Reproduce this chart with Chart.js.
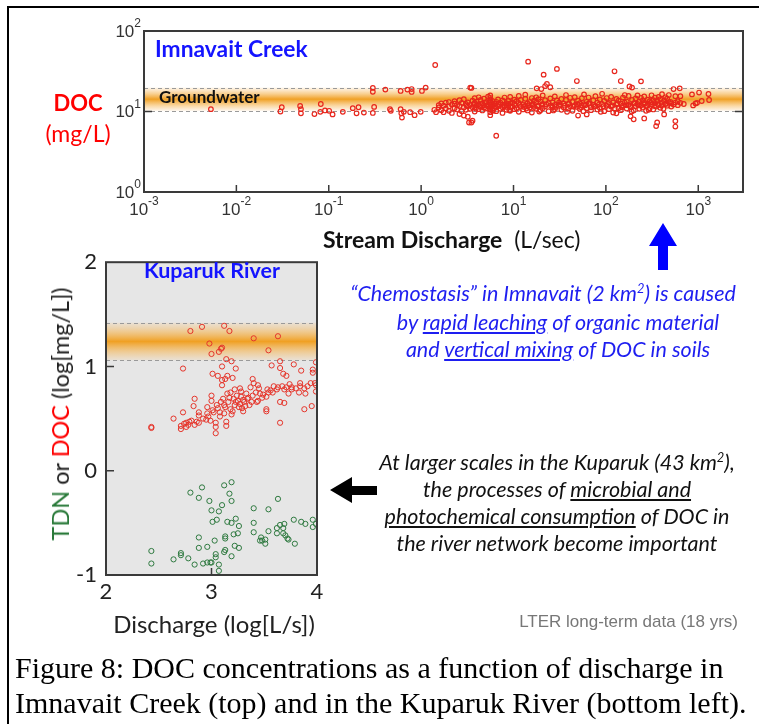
<!DOCTYPE html>
<html>
<head>
<meta charset="utf-8">
<script src="https://cdn.jsdelivr.net/npm/chart.js@4.4.0/dist/chart.umd.min.js"></script>
<style>
  body { margin: 0; width: 759px; height: 724px; position: relative; background: #fff; overflow: hidden; font-family: Lato, "Open Sans", sans-serif; }
  canvas { position: absolute; }
  .t { position: absolute; white-space: nowrap; }
  .c { text-align: center; width: 500px; }
  .frame { position: absolute; left: 7px; top: 6px; width: 800px; height: 800px; border-top: 2.5px solid #000; border-left: 2.5px solid #000; }
  .blue { color: #1e1ef0; font-style: italic; font-size: 21.5px; line-height: 28px; }
  .blk { color: #111; font-style: italic; font-size: 21.5px; line-height: 28px; }
  .cap { font-family: "Liberation Serif", "Times New Roman", serif; font-size: 30px; line-height: 36px; color: #000; left: 15px; }
  sup { font-size: 0.6em; line-height: 0; }
  u { text-underline-offset: 2px; }
</style>
</head>
<body>
<div class="frame"></div>
<canvas id="imnavait" width="759" height="260" style="left:0;top:0"></canvas>
<canvas id="kuparuk" width="330" height="400" style="left:0;top:240px"></canvas>

<!-- top chart labels -->
<div class="t" style="left:155px;top:35px;color:#1414ff;font-weight:bold;font-size:22.8px;line-height:26px">Imnavait Creek</div>
<div class="t" style="left:159px;top:87px;color:#111;font-weight:bold;font-size:17px;line-height:20px">Groundwater</div>
<div class="t c" style="left:-172px;top:89px;color:#f00;font-weight:bold;font-size:22px;line-height:28px">DOC</div>
<div class="t c" style="left:-172px;top:119px;color:#f00;font-size:23px;line-height:28px">(mg/L)</div>
<div class="t" style="left:323px;top:226px;color:#111;font-size:23px;line-height:26px"><b>Stream Discharge</b>&nbsp;&nbsp;(L/sec)</div>

<!-- bottom chart labels -->
<div class="t c" style="left:-38px;top:257px;color:#1414ff;font-weight:bold;font-size:21.5px;line-height:26px">Kuparuk River</div>
<div class="t" style="left:60px;top:414px;font-size:23.5px;line-height:26px;color:#222;transform:translate(-50%,-50%) rotate(-90deg)"><span style="color:#2a7a3a">TDN</span> or <span style="color:#f00">DOC</span> (log[mg/L])</div>
<div class="t c" style="left:-36px;top:610px;color:#222;font-size:24px;line-height:28px">Discharge (log[L/s])</div>

<!-- annotations -->
<svg width="759" height="724" style="position:absolute;left:0;top:0">
  <polygon points="663,223 677,246 668,246 668,270 658,270 658,246 649,246" fill="#0000ff"/>
  <polygon points="330,490 352,477 352,486 377,486 377,495 352,495 352,503" fill="#000"/>
</svg>
<div class="t c blue" style="left:293px;top:279px">“Chemostasis” in Imnavait (2 km<sup>2</sup>) is caused</div>
<div class="t c blue" style="left:308px;top:308px">by <u>rapid leaching</u> of organic material</div>
<div class="t c blue" style="left:308px;top:335px">and <u>vertical mixing</u> of DOC in soils</div>

<div class="t c blk" style="left:307px;top:448px">At larger scales in the Kuparuk (43 km<sup>2</sup>),</div>
<div class="t c blk" style="left:307px;top:475px">the processes of <u>microbial and</u></div>
<div class="t c blk" style="left:307px;top:502px"><u>photochemical consumption</u> of DOC in</div>
<div class="t c blk" style="left:307px;top:529px">the river network become important</div>

<div class="t" style="right:21px;top:612px;color:#777;font-family:'Liberation Sans',Arial,sans-serif;font-size:17px;line-height:20px">LTER long-term data (18 yrs)</div>

<div class="t cap" style="top:650px">Figure 8: DOC concentrations as a function of discharge in</div>
<div class="t cap" style="top:685px">Imnavait Creek (top) and in the Kuparuk River (bottom left).</div>

<script>
// Imnavait Creek: [discharge L/s, DOC mg/L]
const imnavaitPoints = [
  [0.0053,10.7],[0.031,11.3],[0.030,10.0],[0.049,11.7],[0.050,10.7],[0.050,9.5],[0.070,9.3],[0.082,12.4],
  [0.081,9.9],[0.091,10.3],[0.101,10.2],[0.11,9.2],[0.142,9.9],[0.182,11.0],[0.20,9.5],[0.21,11.3],[0.24,9.7],
  [0.30,19.6],[0.30,17.6],[0.31,11.4],[0.30,9.6],[0.41,18.7],[0.46,10.7],[0.47,10.2],[0.60,18.0],[0.60,10.7],
  [0.61,9.5],[0.62,8.4],[0.65,9.9],[0.71,18.7],[0.79,19.0],[0.79,17.5],[0.76,9.8],[0.85,9.0],[0.99,9.9],
  [1.02,18.0],[1.12,19.8],[1.42,37.8],[1.39,10.5],[1.45,9.8],
  [1.55,11.2],[1.55,12.0],[1.65,10.4],[1.65,12.6],[1.75,11.8],[1.75,9.8],[1.85,12.9],[1.85,10.9],
  [2.0,11.5],[2.0,13.1],[2.0,10.2],[2.15,12.2],[2.15,9.6],[2.3,13.4],[2.3,11.0],[2.3,12.5],[2.45,10.6],[2.45,12.0],
  [2.6,11.7],[2.6,13.8],[2.6,9.3],[2.75,12.8],[2.75,10.1],[2.9,11.2],[2.9,14.2],[2.9,8.9],[3.05,12.4],[3.05,10.5],
  [3.2,13.0],[3.2,11.6],[3.2,8.6],[3.3,7.3],[3.4,19.8],[3.5,7.3],[3.6,7.7],[3.5,19.6],[3.4,12.1],[3.4,10.8],
  [3.6,13.6],[3.6,11.3],[3.8,12.7],[3.8,10.0],[3.8,14.6],[4.0,11.9],[4.0,13.3],[4.2,10.7],[4.2,12.3],[4.2,15.0],
  [4.4,11.4],[4.4,13.9],[4.6,12.6],[4.6,10.3],[4.8,11.1],[4.8,14.4],[4.8,12.0],[5.0,13.1],[5.0,10.9],
  [5.3,12.2],[5.3,15.3],[5.3,11.5],[5.6,9.0],[5.6,9.8],[5.6,10.6],[5.6,11.4],[5.6,12.2],[5.6,13.0],[5.6,13.8],
  [5.6,14.8],[5.6,15.8],[5.9,11.8],[5.9,13.5],[5.9,10.4],[6.2,12.5],[6.2,11.0],[6.5,5.0],[6.5,13.2],[6.5,10.1],
  [6.8,11.6],[6.8,14.1],[6.8,12.4],[7.2,10.8],[7.2,12.9],[7.6,13.7],[7.6,11.3],[7.6,9.6],[8.0,12.0],[8.0,14.9],
  [8.4,10.5],[8.4,12.7],[8.4,11.4],[8.8,13.5],[8.8,11.9],[9.2,10.2],[9.2,12.6],[9.2,15.2],[9.7,11.6],[9.7,13.0],
  [10.2,12.3],[10.2,10.7],[10.2,14.0],[10.8,11.0],[10.8,13.4],[11.4,12.8],[11.4,9.9],[11.4,15.6],[12.0,11.5],
  [12.0,13.9],[12.7,10.6],[12.7,12.2],[13.4,14.4],[13.4,11.8],[13.4,16.2],[14.2,12.6],[14.2,10.3],[14.4,41.6],
  [15.0,13.1],[15.0,11.2],[15.8,12.0],[15.8,14.7],[15.8,9.7],[16.7,11.4],[16.7,13.6],[17.6,12.9],[17.6,10.8],
  [17.6,15.0],[17.8,19.4],[18.6,11.9],[18.6,14.2],[19.6,13.3],[19.6,10.4],[20,19.0],[20.7,12.4],[20.7,11.0],
  [20.7,15.8],[21.2,28.7],[22,20.7],[22,13.8],[22,11.6],[23,22.0],[24,12.7],[24,10.1],[25,20.0],[25,14.5],
  [26.5,11.3],[26.5,13.0],[28,12.1],[28,15.4],[28,10.7],[29.5,33.8],[29.5,13.7],[31,11.8],[31,12.9],
  [33,14.3],[33,10.5],[35,12.5],[35,11.2],[37,13.9],[37,16.0],[39,10.9],[39,12.3],[41,14.8],[41,11.6],
  [43.5,13.1],[43.5,10.2],[46,12.0],[46,15.1],[48.5,23.9],[48.5,11.4],[50,8.9],[50,13.6],[52,12.7],[52,10.8],
  [55,14.6],[55,11.9],[58,12.3],[58,16.3],[62,9.2],[62,13.2],[62,11.0],[65,12.6],[65,14.9],[69,11.3],[69,10.4],
  [73,13.8],[73,12.1],[77,15.5],[77,11.7],[81,10.6],[81,12.9],[86,14.1],[86,11.1],[91,12.4],[91,16.6],
  [96,10.1],[96,13.5],[102,11.8],[102,14.7],[108,12.8],[108,10.7],[114,15.2],[114,11.5],[120,13.0],[120,9.7],
  [124,31.6],[130,9.5],[130,12.2],[130,14.3],[137,11.0],[137,13.6],[145,23.9],[145,12.5],[145,10.4],
  [153,14.9],[153,11.9],[160,12.9],[160,16.0],[168,10.9],[168,13.3],[176,12.1],[176,15.6],[180,20.5],
  [185,11.4],[185,8.7],[192,19.8],[192,13.9],[200,8.0],[200,12.7],[200,10.3],[210,14.5],[210,11.7],
  [220,12.4],[220,15.8],[230,10.8],[230,13.2],[240,23.7],[240,12.0],[240,14.8],[250,11.2],[250,13.7],
  [260,8.2],[260,12.9],[260,15.4],[272,11.6],[272,10.2],[285,14.0],[285,12.5],[298,13.4],[298,11.0],
  [312,15.9],[312,12.2],[326,10.6],[326,13.8],[340,12.8],[340,14.9],[350,6.6],[350,11.5],[359,7.3],[359,13.5],
  [372,12.1],[372,15.2],[388,14.2],[388,11.1],[405,12.9],[405,16.4],[427,9.2],[427,13.7],[440,15.0],[440,12.4],
  [460,11.8],[460,14.4],[480,13.1],[480,16.0],[510,11.5],[510,12.6],[540,19.0],[540,12.2],[565,7.6],[565,6.5],
  [565,15.5],[565,12.9],[600,12.0],[600,13.4],[630,19.4],[640,15.5],[640,12.8],[697,12.4],[855,16.3],
  [880,11.9],[935,12.6],[970,12.8],[1020,17.2],[1090,13.5],[1290,16.5],[1310,13.9],
  [3.1,11.9],[3.7,12.4],[4.3,11.7],[4.9,12.8],[5.8,12.6],[6.4,11.7],[7.0,12.1],[7.9,11.5],[8.6,12.3],[9.4,11.2],
  [10.5,11.8],[11.7,12.1],[13.0,11.4],[14.6,12.0],[16.2,12.4],[18.1,11.6],[20.2,12.1],[22.6,12.3],[25.5,11.9],
  [28.8,11.4],[32,12.2],[36,11.8],[40,12.6],[44.7,11.5],[49,12.3],[54,11.3],[60,12.0],[67,12.7],[75,11.5],
  [84,12.2],[94,11.6],[105,12.4],[118,11.9],[133,12.6],[149,11.3],[165,12.0],[183,11.7],[205,12.6],[226,11.9],
  [255,12.4],[280,11.8],[305,12.9],[335,11.7],[365,12.3],[400,11.9],[450,12.5],[500,13.2],[3.9,10.9],
  [6.0,10.2],[9.0,10.4],[13.8,10.9],[19.0,10.0],[27,10.3],[38,9.9],[57,10.1],[88,9.9],[125,10.9],[190,10.0],
  [290,10.5],[420,10.8]
];

// Kuparuk River: [log discharge, log concentration]
const kuparukDOC = [
  [2.80,1.34],[2.91,1.38],[3.12,1.39],[3.17,1.34],[2.98,1.22],[3.00,1.12],[3.07,1.14],[3.09,1.17],[3.10,1.18],
  [3.40,1.27],[3.63,1.29],[3.54,1.155],[3.14,1.07],[3.19,1.05],[3.23,0.98],[3.10,1.00],[2.73,0.98],[3.01,0.93],
  [3.06,0.91],[3.15,0.91],[3.20,0.89],[3.10,0.87],[3.10,0.82],[3.13,0.88],[3.57,1.01],[3.65,1.05],[3.65,0.985],
  [3.78,1.02],[3.85,0.96],[3.99,1.04],[3.96,0.97],[3.96,0.94],[3.68,0.93],[3.71,0.91],[3.39,0.88],[3.40,0.84],
  [3.94,0.84],[3.99,0.82],[3.99,0.76],[3.89,0.74],[3.84,0.84],[3.76,0.80],[3.67,0.81],[3.63,0.80],[3.59,0.81],
  [3.54,0.75],[3.52,0.71],[3.49,0.73],[3.45,0.79],[3.43,0.66],[3.52,0.59],[3.52,0.57],[3.65,0.66],[3.69,0.65],
  [3.65,0.46],[3.88,0.59],[3.95,0.62],[3.73,0.74],[3.83,0.75],[2.84,0.69],[3.00,0.72],[3.00,0.67],[2.83,0.62],
  [2.73,0.56],[2.64,0.50],[2.43,0.42],[2.43,0.41],[2.71,0.43],[2.71,0.40],[2.76,0.46],[2.76,0.42],[2.79,0.47],
  [2.81,0.48],[2.84,0.44],[2.88,0.46],[2.88,0.53],[2.88,0.56],[2.95,0.49],[2.96,0.61],[2.96,0.55],[2.97,0.52],
  [3.02,0.56],[3.04,0.46],[3.04,0.42],[3.04,0.36],[3.05,0.63],[3.08,0.56],[3.08,0.52],[3.11,0.69],[3.12,0.63],
  [3.12,0.55],[3.14,0.47],[3.14,0.43],[3.16,0.66],[3.18,0.75],[3.18,0.59],[3.19,0.54],[3.21,0.69],[3.22,0.63],
  [3.24,0.72],[3.25,0.67],[3.27,0.79],[3.27,0.64],[3.28,0.71],[3.29,0.60],[3.30,0.57],[3.31,0.66],[3.33,0.74],
  [3.34,0.69],[3.36,0.63],[3.39,0.72],[3.44,0.67],[3.46,0.74],[3.53,0.78],[3.58,0.75],[3.69,0.78],[3.71,0.80],
  [3.76,0.78],[3.80,0.79],[3.84,0.81],[3.88,0.79],[3.98,0.84],[3.06,0.60],[3.09,0.66],[3.13,0.61],[3.17,0.70],
  [3.20,0.57],[3.23,0.66],[3.26,0.61],[3.30,0.68],[3.32,0.62],[3.35,0.70],[3.38,0.66],[3.42,0.75],[3.48,0.70],
  [3.56,0.77],[3.62,0.78],[2.92,0.50],[2.99,0.48],[3.01,0.58],[2.86,0.47],[2.78,0.44],[2.74,0.45],[3.15,0.74],
  [3.22,0.78],[3.28,0.76],[3.37,0.80],[3.44,0.82],[3.91,0.81],[3.74,0.83]
];
const kuparukTDN = [
  [2.80,-0.21],[2.91,-0.16],[2.88,-0.26],[3.12,-0.14],[3.19,-0.11],[3.17,-0.22],[3.19,-0.29],[2.98,-0.29],
  [3.10,-0.33],[3.00,-0.38],[3.07,-0.39],[3.63,-0.27],[3.40,-0.36],[3.54,-0.37],[3.01,-0.49],[3.05,-0.47],
  [3.15,-0.49],[3.19,-0.50],[3.23,-0.46],[3.26,-0.53],[3.40,-0.50],[3.40,-0.59],[3.25,-0.60],[3.21,-0.61],
  [3.13,-0.63],[3.13,-0.65],[3.03,-0.67],[2.88,-0.64],[2.88,-0.74],[2.96,-0.73],[3.22,-0.72],[3.26,-0.74],
  [3.13,-0.76],[3.12,-0.78],[3.19,-0.82],[3.04,-0.80],[3.04,-0.83],[2.99,-0.88],[3.00,-0.88],[2.96,-0.88],
  [2.92,-0.89],[2.84,-0.90],[3.07,-0.90],[3.07,-0.96],[2.78,-0.84],[2.71,-0.79],[2.71,-0.81],[2.64,-0.85],
  [2.43,-0.77],[2.43,-0.89],[3.47,-0.64],[3.46,-0.67],[3.48,-0.67],[3.51,-0.70],[3.51,-0.66],[3.54,-0.58],
  [3.62,-0.55],[3.65,-0.52],[3.69,-0.51],[3.68,-0.55],[3.62,-0.60],[3.68,-0.60],[3.70,-0.62],[3.72,-0.65],
  [3.73,-0.66],[3.79,-0.70],[3.78,-0.47],[3.85,-0.49],[3.89,-0.51],[3.96,-0.47],[3.99,-0.51],[3.96,-0.54]
];

// groundwater ranges
const imnavaitGroundwater = [10.2, 19.8];
const kuparukGroundwater = [1.06, 1.42];

const qDecades = [0.001, 0.01, 0.1, 1, 10, 100, 1000];
const docDecades = [1, 10, 100];
const kupQTicks = [2, 3, 4];
const kupCTicks = [-1, 0, 1, 2];

// "10" with a raised exponent
function drawPow(ctx, v, x, y, align) {
  const e = String(Math.round(Math.log10(v)));
  ctx.font = '17px "Liberation Sans", Arial, sans-serif';
  const wb = ctx.measureText('10').width;
  ctx.font = '12px "Liberation Sans", Arial, sans-serif';
  const we = ctx.measureText(e).width;
  const left = align === 'right' ? x - wb - we : x - (wb + we) / 2;
  ctx.fillStyle = '#333';
  ctx.textAlign = 'left';
  ctx.textBaseline = 'middle';
  ctx.font = '17px "Liberation Sans", Arial, sans-serif';
  ctx.fillText('10', left, y);
  ctx.font = '12px "Liberation Sans", Arial, sans-serif';
  ctx.fillText(e, left + wb, y - 8);
}

const powLabels = {
  id: 'powLabels',
  afterDraw(chart) {
    const { ctx, chartArea: a, scales: { x, y } } = chart;
    ctx.save();
    qDecades.forEach(v => drawPow(ctx, v, x.getPixelForValue(v), a.bottom + 18, 'center'));
    docDecades.forEach(v => drawPow(ctx, v, a.left - 3, y.getPixelForValue(v) + 1, 'right'));
    ctx.restore();
  }
};

// orange groundwater band with dashed edges
function bandPlugin(range) {
  return {
    id: 'band',
    beforeDatasetsDraw(chart) {
      const { ctx, chartArea: a, scales: { y } } = chart;
      const top = y.getPixelForValue(range[1]);
      const bot = y.getPixelForValue(range[0]);
      const g = ctx.createLinearGradient(0, top, 0, bot);
      g.addColorStop(0, 'rgba(248,190,110,0.15)');
      g.addColorStop(0.25, 'rgba(245,180,80,0.6)');
      g.addColorStop(0.5, 'rgba(240,160,35,1)');
      g.addColorStop(0.75, 'rgba(245,180,80,0.6)');
      g.addColorStop(1, 'rgba(248,190,110,0.15)');
      ctx.save();
      ctx.fillStyle = g;
      ctx.fillRect(a.left, top, a.right - a.left, bot - top);
      ctx.strokeStyle = '#9a9a9a';
      ctx.lineWidth = 1;
      ctx.setLineDash([4, 3]);
      [top, bot].forEach(p => {
        ctx.beginPath();
        ctx.moveTo(a.left, Math.round(p) + 0.5);
        ctx.lineTo(a.right, Math.round(p) + 0.5);
        ctx.stroke();
      });
      ctx.restore();
    }
  };
}

// background, frame and inward tick marks
function framePlugin(opts) {
  return {
    id: 'frame',
    beforeDraw(chart) {
      if (!opts.bg) return;
      const { ctx, chartArea: a } = chart;
      ctx.save();
      ctx.fillStyle = opts.bg;
      ctx.fillRect(a.left, a.top, a.right - a.left, a.bottom - a.top);
      ctx.restore();
    },
    afterDatasetsDraw(chart) {
      const { ctx, chartArea: a, scales: { x, y } } = chart;
      ctx.save();
      ctx.strokeStyle = '#3a3a3a';
      ctx.lineWidth = 2;
      ctx.strokeRect(a.left, a.top, a.right - a.left, a.bottom - a.top);
      ctx.lineWidth = 1.5;
      ctx.beginPath();
      opts.xTicks.forEach(v => {
        const px = x.getPixelForValue(v);
        ctx.moveTo(px, a.bottom); ctx.lineTo(px, a.bottom - 7);
      });
      opts.yTicks.forEach(v => {
        const py = y.getPixelForValue(v);
        ctx.moveTo(a.left, py); ctx.lineTo(a.left + 8, py);
        if (opts.rightTicks) { ctx.moveTo(a.right, py); ctx.lineTo(a.right - 8, py); }
      });
      ctx.stroke();
      ctx.restore();
    }
  };
}

new Chart(document.getElementById('imnavait'), {
  type: 'scatter',
  data: {
    datasets: [{
      data: imnavaitPoints.map(p => ({ x: p[0], y: p[1] })),
      borderColor: '#e8261c',
      backgroundColor: 'rgba(0,0,0,0)',
      borderWidth: 1.2,
      pointRadius: 2.3
    }]
  },
  options: {
    responsive: false,
    animation: false,
    layout: { padding: { left: 104, top: 31, right: 16, bottom: 28 } },
    plugins: { legend: { display: false }, tooltip: { enabled: false } },
    scales: {
      x: {
        type: 'logarithmic', min: 0.001, max: 3050,
        afterBuildTicks: s => { s.ticks = qDecades.map(v => ({ value: v })); },
        afterFit: s => { s.height = 40; },
        grid: { display: false, drawTicks: false },
        border: { display: false },
        ticks: { display: false }
      },
      y: {
        type: 'logarithmic', min: 1, max: 100,
        afterBuildTicks: s => { s.ticks = docDecades.map(v => ({ value: v })); },
        afterFit: s => { s.width = 40; },
        grid: { display: false, drawTicks: false },
        border: { display: false },
        ticks: { display: false }
      }
    }
  },
  plugins: [bandPlugin(imnavaitGroundwater), framePlugin({ xTicks: qDecades, yTicks: [10], rightTicks: true }), powLabels]
});

new Chart(document.getElementById('kuparuk'), {
  type: 'scatter',
  data: {
    datasets: [{
      data: kuparukDOC.map(p => ({ x: p[0], y: p[1] })),
      borderColor: '#e5352b',
      backgroundColor: 'rgba(0,0,0,0)',
      borderWidth: 1,
      pointRadius: 2.6
    }, {
      data: kuparukTDN.map(p => ({ x: p[0], y: p[1] })),
      borderColor: '#2f7a40',
      backgroundColor: 'rgba(0,0,0,0)',
      borderWidth: 1,
      pointRadius: 2.6
    }]
  },
  options: {
    responsive: false,
    animation: false,
    layout: { padding: { left: 66, top: 12, right: 13, bottom: 30 } },
    plugins: { legend: { display: false }, tooltip: { enabled: false } },
    scales: {
      x: {
        type: 'linear', min: 2, max: 4,
        afterBuildTicks: s => { s.ticks = kupQTicks.map(v => ({ value: v })); },
        afterFit: s => { s.height = 35; },
        grid: { display: false, drawTicks: false },
        border: { display: false },
        ticks: { color: '#222', padding: 4, font: { family: 'Lato', size: 22 } }
      },
      y: {
        type: 'linear', min: -1, max: 2,
        afterBuildTicks: s => { s.ticks = kupCTicks.map(v => ({ value: v })); },
        afterFit: s => { s.width = 40; },
        grid: { display: false, drawTicks: false },
        border: { display: false },
        ticks: { color: '#222', padding: 9, font: { family: 'Lato', size: 22 } }
      }
    }
  },
  plugins: [bandPlugin(kuparukGroundwater), framePlugin({ bg: '#e6e6e6', xTicks: [3], yTicks: [0, 1] })]
});
</script>
</body>
</html>
